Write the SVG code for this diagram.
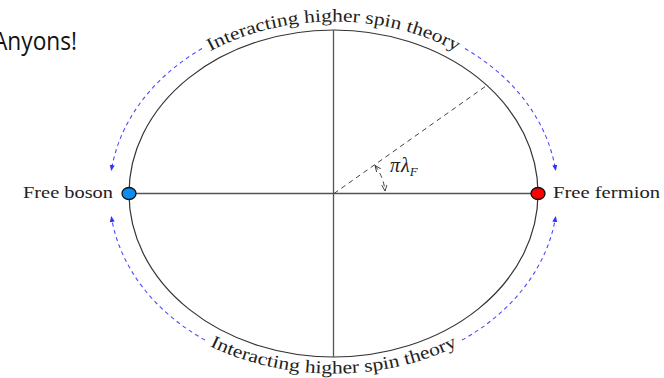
<svg xmlns="http://www.w3.org/2000/svg" width="664" height="378" viewBox="0 0 664 378">
  <style>
    .serif { font-family: "Liberation Serif", "DejaVu Serif", serif; fill: #222; }
    .axis { stroke: #555; stroke-width: 1.3; fill: none; }
    .flow { stroke: #4a4aff; stroke-width: 1.1; stroke-dasharray: 4 3.5; fill: none; }
    .guide { stroke: #444; stroke-width: 1; stroke-dasharray: 5 4; fill: none; }
  </style>
  <defs>
    <marker id="blueArrow" viewBox="0 0 6 6" refX="5" refY="3" markerWidth="6" markerHeight="6" markerUnits="userSpaceOnUse" orient="auto">
      <path d="M0,0.5 L6,3 L0,5.5 Z" fill="#3030ff"/>
    </marker>
    <marker id="blackArrow" viewBox="0 0 8 8" refX="7" refY="4" markerWidth="7" markerHeight="7" markerUnits="userSpaceOnUse" orient="auto-start-reverse">
      <path d="M0,1 L7,4 L0,7" fill="none" stroke="#333" stroke-width="1"/>
    </marker>
    <path id="topArc" d="M 114.5 193.5 A 219 172 0 0 1 552.5 193.5"/>
    <path id="botArc" d="M 100.5 193.5 A 233 180 0 0 0 566.5 193.5"/>
  </defs>

  <text x="-7" y="50" font-family="'Open Sans', 'Liberation Sans', sans-serif" font-size="26" fill="#111" textLength="84" lengthAdjust="spacingAndGlyphs">Anyons!</text>

  <g id="circle">
    <ellipse cx="333.5" cy="193.5" rx="204.5" ry="163.5" fill="none" stroke="#333" stroke-width="1.2"/>
  </g>

  <g id="connectors">
    <line class="axis" x1="333.5" y1="30" x2="333.5" y2="357"/>
    <line class="axis" x1="129" y1="193.5" x2="538" y2="193.5"/>
    <line class="guide" x1="334" y1="193.5" x2="486" y2="86"/>
    <path class="guide" d="M 375 165.5 A 50 50 0 0 1 385 191" marker-start="url(#blackArrow)" marker-end="url(#blackArrow)" stroke-dasharray="5 3"/>
    <path class="flow" d="M 202 48.6 A 224 179 0 0 0 111.4 170" marker-end="url(#blueArrow)"/>
    <path class="flow" d="M 465 48.6 A 224 179 0 0 1 555.6 170" marker-end="url(#blueArrow)"/>
    <path class="flow" d="M 205 340.1 A 224 179 0 0 1 111.4 217" marker-end="url(#blueArrow)"/>
    <path class="flow" d="M 462 340.1 A 224 179 0 0 0 555.6 217" marker-end="url(#blueArrow)"/>
  </g>

  <g id="top-label">
    <text class="serif" font-size="18"><textPath href="#topArc" startOffset="50%" text-anchor="middle" textLength="256" lengthAdjust="spacingAndGlyphs">Interacting higher spin theory</textPath></text>
  </g>
  <g id="bottom-label">
    <text class="serif" font-size="18"><textPath href="#botArc" startOffset="50%" text-anchor="middle" textLength="256" lengthAdjust="spacingAndGlyphs">Interacting higher spin theory</textPath></text>
  </g>

  <g id="free-boson">
    <ellipse cx="129" cy="193.5" rx="7" ry="6" fill="#0a8cf0" stroke="#111" stroke-width="1.3"/>
    <text class="serif" x="23" y="198" font-size="17" textLength="90" lengthAdjust="spacingAndGlyphs">Free boson</text>
  </g>

  <g id="free-fermion">
    <ellipse cx="538" cy="193.5" rx="7" ry="6" fill="#ff0000" stroke="#111" stroke-width="1.3"/>
    <text class="serif" x="553" y="198" font-size="17" textLength="107" lengthAdjust="spacingAndGlyphs">Free fermion</text>
  </g>

  <g id="angle-label">
    <text class="serif" x="390" y="172" font-size="20" font-style="italic">π<tspan dx="1">λ</tspan><tspan font-size="13" dy="4">F</tspan></text>
  </g>
</svg>
